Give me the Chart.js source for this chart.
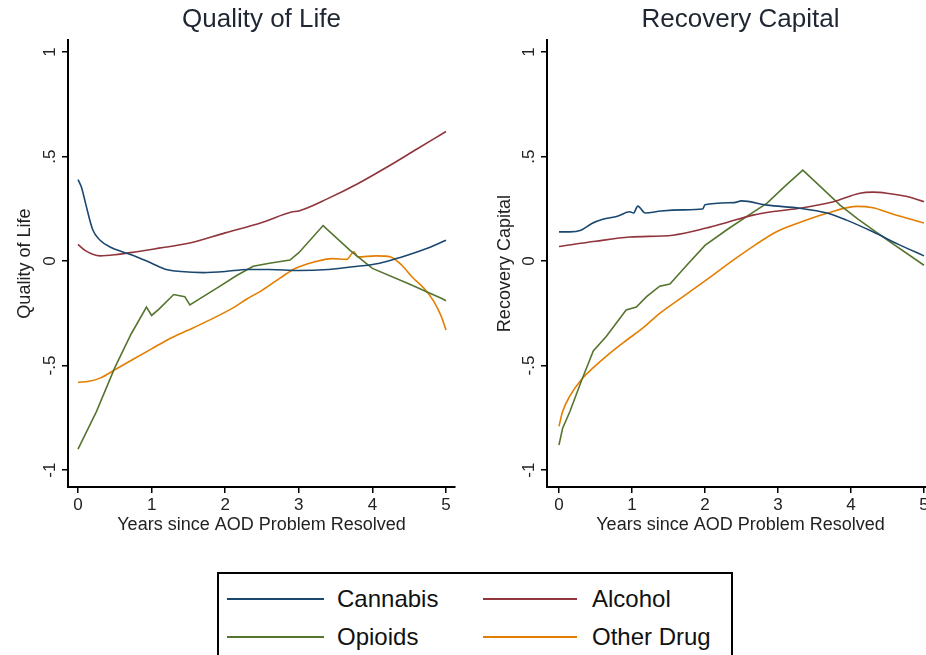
<!DOCTYPE html>
<html>
<head>
<meta charset="utf-8">
<script src="https://cdn.jsdelivr.net/npm/chart.js@4.4.0/dist/chart.umd.min.js"></script>
<style>
  html, body { margin: 0; padding: 0; background: #fff; }
  body { width: 926px; height: 655px; overflow: hidden; position: relative; font-family: 'Liberation Sans', Arial, sans-serif; }
  #qolChart { position: absolute; left: 0; top: 0; }
  #rcChart { position: absolute; left: 480px; top: 0; }
  #legend { position: absolute; left: 217px; top: 572px; width: 512px; height: 110px; border: 2px solid #000; }
  .item { position: absolute; font-size: 24px; color: #111; line-height: 24px; }
  .swatch { position: absolute; height: 2px; }
</style>
</head>
<body>
<canvas id="qolChart" width="470" height="545"></canvas>
<canvas id="rcChart" width="460" height="545"></canvas>
<div id="legend"></div>

<script>
// series names + colours (Stata s2color look)
const seriesNames = ['Cannabis', 'Alcohol', 'Opioids', 'Other Drug'];
const seriesColors = ['#1a476f', '#90353b', '#55752f', '#e37e00'];

// axis ticks
const xTicks = [0, 1, 2, 3, 4, 5];
const xTickLabels = ['0', '1', '2', '3', '4', '5'];
const yTicks = [-1, -0.5, 0, 0.5, 1];
const yTickLabels = ['-1', '-.5', '0', '.5', '1'];

// Quality of Life  [years, value]
const qolCannabis = [[0,0.39],[0.05,0.35],[0.1,0.28],[0.2,0.15],[0.3,0.1],[0.45,0.065],[0.6,0.045],[0.8,0.02],[1.0,-0.01],[1.2,-0.04],[1.4,-0.05],[1.7,-0.055],[2.0,-0.05],[2.3,-0.04],[2.6,-0.04],[3.0,-0.045],[3.4,-0.04],[3.8,-0.025],[4.1,-0.01],[4.4,0.02],[4.7,0.055],[5.0,0.1]];
const qolAlcohol = [[0,0.08],[0.1,0.05],[0.3,0.025],[0.5,0.03],[0.8,0.045],[1.1,0.062],[1.5,0.085],[2.0,0.135],[2.5,0.185],[2.9,0.235],[3.0,0.24],[3.4,0.3],[3.8,0.37],[4.2,0.45],[4.6,0.535],[5.0,0.62]];
const qolOpioids = [[0,-0.9],[0.25,-0.72],[0.5,-0.51],[0.72,-0.35],[0.93,-0.22],[1.0,-0.26],[1.1,-0.23],[1.3,-0.16],[1.45,-0.17],[1.52,-0.21],[1.7,-0.17],[1.93,-0.12],[2.15,-0.07],[2.38,-0.025],[2.6,-0.01],[2.88,0.005],[3.0,0.04],[3.33,0.17],[3.7,0.05],[4.0,-0.035],[4.5,-0.11],[4.95,-0.18],[5.0,-0.19]];
const qolOther = [[0,-0.58],[0.15,-0.575],[0.3,-0.56],[0.5,-0.52],[0.75,-0.47],[1.0,-0.42],[1.25,-0.37],[1.5,-0.33],[1.8,-0.28],[2.1,-0.225],[2.3,-0.18],[2.5,-0.14],[2.75,-0.08],[2.95,-0.035],[3.2,-0.005],[3.45,0.012],[3.65,0.008],[3.75,0.045],[3.8,0.02],[4.05,0.025],[4.25,0.02],[4.4,-0.02],[4.55,-0.08],[4.7,-0.13],[4.83,-0.19],[4.93,-0.26],[5.0,-0.33]];

// Recovery Capital  [years, value]
const rcCannabis = [[0,0.14],[0.15,0.14],[0.3,0.148],[0.45,0.18],[0.6,0.2],[0.8,0.215],[0.97,0.236],[1.02,0.23],[1.08,0.263],[1.18,0.23],[1.4,0.24],[1.7,0.245],[1.97,0.249],[2.0,0.27],[2.4,0.28],[2.5,0.288],[2.85,0.268],[3.3,0.253],[3.67,0.23],[3.94,0.196],[4.3,0.14],[4.65,0.08],[5.0,0.025]];
const rcAlcohol = [[0,0.07],[0.5,0.095],[0.97,0.115],[1.56,0.124],[2.02,0.158],[2.3,0.185],[2.66,0.22],[3.0,0.24],[3.3,0.253],[3.76,0.284],[4.12,0.325],[4.3,0.33],[4.49,0.325],[4.75,0.31],[5.0,0.284]];
const rcOpioids = [[0,-0.88],[0.05,-0.8],[0.15,-0.72],[0.3,-0.58],[0.47,-0.43],[0.65,-0.36],[0.92,-0.234],[1.06,-0.22],[1.2,-0.17],[1.38,-0.12],[1.52,-0.11],[1.75,-0.02],[2.0,0.075],[2.3,0.15],[2.6,0.22],[2.85,0.277],[3.1,0.36],[3.34,0.435],[3.6,0.35],[3.85,0.268],[4.1,0.2],[4.5,0.1],[5.0,-0.02]];
const rcOther = [[0,-0.79],[0.05,-0.72],[0.15,-0.645],[0.3,-0.57],[0.47,-0.51],[0.7,-0.44],[0.92,-0.38],[1.15,-0.32],[1.38,-0.25],[1.7,-0.17],[2.0,-0.095],[2.43,0.015],[2.7,0.08],[2.98,0.14],[3.26,0.18],[3.66,0.228],[4.09,0.262],[4.3,0.255],[4.57,0.225],[5.0,0.182]];

Chart.defaults.font.family = "'Liberation Sans', Arial, sans-serif";
Chart.defaults.color = '#222';

function toPoints(arr) {
    return arr.map(p => ({ x: p[0], y: p[1] }));
}

function makeChart(id, title, yTitle, series, xMin, xMax, yAxisWidth, padRight) {
    const datasets = series.map((s, i) => ({
        label: seriesNames[i],
        data: toPoints(s),
        borderColor: seriesColors[i],
        borderWidth: 1.6,
        pointRadius: 0,
        fill: false,
        // opioid curves are jagged, the rest are smooth
        cubicInterpolationMode: i === 2 ? 'default' : 'monotone',
        tension: 0
    }));

    return new Chart(document.getElementById(id), {
        type: 'line',
        data: { datasets: datasets },
        options: {
            responsive: false,
            animation: false,
            layout: { padding: { left: 0, right: padRight, top: 0, bottom: 0 } },
            plugins: {
                legend: { display: false },
                tooltip: { enabled: false },
                title: {
                    display: true,
                    text: title,
                    fullSize: false,
                    color: '#1f2633',
                    font: { size: 26, weight: 'normal' },
                    padding: { top: 4, bottom: 5 }
                }
            },
            scales: {
                x: {
                    type: 'linear',
                    min: xMin,
                    max: xMax,
                    afterBuildTicks: sc => { sc.ticks = xTicks.map(v => ({ value: v })); },
                    afterFit: sc => { sc.height = 58; },
                    ticks: {
                        callback: (v, i) => xTickLabels[i],
                        minRotation: 0, maxRotation: 0,
                        padding: 2,
                        color: '#222',
                        font: { size: 17 }
                    },
                    grid: { drawOnChartArea: false, drawTicks: true, tickLength: 6, color: '#000', lineWidth: 1.5 },
                    border: { display: true, color: '#000', width: 2 },
                    title: {
                        display: true,
                        text: 'Years since AOD Problem Resolved',
                        color: '#222',
                        font: { size: 18 },
                        padding: { top: 0, bottom: 9 }
                    }
                },
                y: {
                    type: 'linear',
                    min: -1.081,
                    max: 1.057,
                    afterBuildTicks: sc => { sc.ticks = yTicks.map(v => ({ value: v })); },
                    afterFit: sc => { sc.width = yAxisWidth; },
                    ticks: {
                        callback: (v, i) => yTickLabels[i],
                        minRotation: 90, maxRotation: 90,
                        crossAlign: 'center',
                        padding: 2,
                        color: '#222',
                        font: { size: 17 }
                    },
                    grid: { drawOnChartArea: false, drawTicks: true, tickLength: 6, color: '#000', lineWidth: 1.5 },
                    border: { display: true, color: '#000', width: 2 },
                    title: {
                        display: true,
                        text: yTitle,
                        color: '#222',
                        font: { size: 18 },
                        padding: { top: 14, bottom: 0 }
                    }
                }
            }
        }
    });
}

makeChart('qolChart', 'Quality of Life', 'Quality of Life',
    [qolCannabis, qolAlcohol, qolOpioids, qolOther], -0.136, 5.122, 68, 15);
makeChart('rcChart', 'Recovery Capital', 'Recovery Capital',
    [rcCannabis, rcAlcohol, rcOpioids, rcOther], -0.164, 5.137, 67, 6);

// legend: two columns, two rows
const legend = document.getElementById('legend');
const legendCols = [[8, 118], [264, 373]];
const legendRows = [25, 63];
const legendOrder = [0, 1, 2, 3];
legendOrder.forEach((si, k) => {
    const col = legendCols[k % 2];
    const row = legendRows[Math.floor(k / 2)];
    const sw = document.createElement('div');
    sw.className = 'swatch';
    sw.style.left = col[0] + 'px';
    sw.style.width = (k % 2 === 0 ? 97 : 94) + 'px';
    sw.style.top = (row - 1) + 'px';
    sw.style.background = seriesColors[si];
    legend.appendChild(sw);
    const tx = document.createElement('div');
    tx.className = 'item';
    tx.style.left = col[1] + 'px';
    tx.style.top = (row - 12) + 'px';
    tx.textContent = seriesNames[si];
    legend.appendChild(tx);
});
</script>
</body>
</html>
